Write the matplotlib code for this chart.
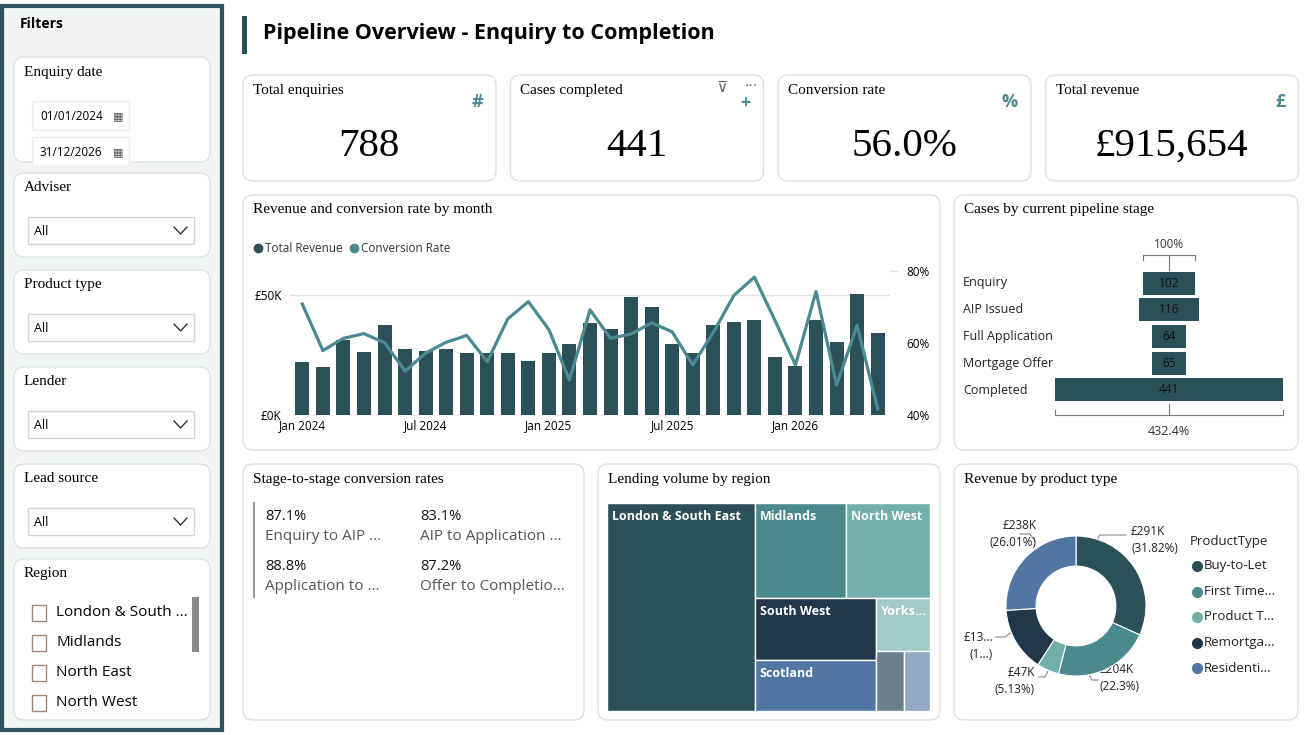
import matplotlib
matplotlib.use("Agg")
import matplotlib.pyplot as plt
from matplotlib.patches import FancyBboxPatch, Rectangle
import numpy as np

W, H = 1312, 735
SANS = "Open Sans"
SERIF = "Liberation Serif"

# ---------------- data ----------------
months = ["Jan 2024", "Jul 2024", "Jan 2025", "Jul 2025", "Jan 2026"]
revenue_k = [22.2, 19.8, 31.3, 26.3, 37.3, 27.5, 26.5, 27.5, 25.7, 26.0, 25.8, 22.5,
             26.0, 29.5, 38.3, 36.0, 49.3, 45.1, 29.6, 26.0, 37.6, 38.8, 39.7, 24.3,
             20.3, 39.4, 30.6, 50.4, 34.2]
conv_rate = [70.8, 57.9, 61.3, 62.6, 60.1, 52.2, 57.2, 60.2, 62.1, 54.8, 66.7, 71.5,
             63.7, 49.7, 69.2, 61.3, 62.5, 65.6, 63.1, 53.9, 62.9, 73.2, 78.3, 66.3,
             53.9, 74.3, 48.3, 64.9, 41.7]

stages = ["Enquiry", "AIP Issued", "Full Application", "Mortgage Offer", "Completed"]
stage_counts = [102, 116, 64, 65, 441]

kpi_titles = ["Total enquiries", "Cases completed", "Conversion rate", "Total revenue"]
kpi_values = ["788", "441", "56.0%", "£915,654"]
kpi_icons = ["#", "+", "%", "£"]

conv_pcts = ["87.1%", "83.1%", "88.8%", "87.2%"]
conv_labels = ["Enquiry to AIP ...", "AIP to Application ...", "Application to ...", "Offer to Completio..."]

regions = ["London & South East", "Midlands", "North West", "South West", "Scotland", "Yorks...", "", ""]
region_vals = [45.8, 12.9, 11.9, 11.2, 9.2, 4.3, 2.5, 2.3]
region_cols = ["#2B5058", "#4A8A8E", "#72B0AC", "#22384A", "#5276A4", "#A3C9C6", "#6B7F8C", "#93A8C4"]

products = ["Buy-to-Let", "First Time...", "Product T...", "Remortga...", "Residenti..."]
product_rev_k = [291, 204, 47, 136, 238]
product_labels = ["£291K\n(31.82%)", "£204K\n(22.3%)", "£47K\n(5.13%)", "£13...\n(1...)", "£238K\n(26.01%)"]
product_cols = ["#2B5058", "#4A8A8E", "#72B0AC", "#22384A", "#5276A4"]

filters = ["Adviser", "Product type", "Lender", "Lead source"]
region_list = ["London & South ...", "Midlands", "North East", "North West"]

DARK = "#2B5058"
LINE = "#4A8A90"

fig = plt.figure(figsize=(W / 100, H / 100), dpi=100)
bg = fig.add_axes([0, 0, 1, 1])
bg.set_xlim(0, W); bg.set_ylim(H, 0); bg.axis("off")

def panel(x, y, w, h, fc="white", ec="#DDE3E3", lw=1.0, r=10):
    bg.add_patch(FancyBboxPatch((x, y), w, h, boxstyle=f"round,pad=0,rounding_size={r}",
                                fc=fc, ec=ec, lw=lw))

def axes_px(x, y, w, h):
    return fig.add_axes([x / W, 1 - (y + h) / H, w / W, h / H])

# sidebar
bg.add_patch(Rectangle((2, 6), 220, 724, fc="#F2F5F4", ec="#2F545C", lw=3))
bg.text(20, 24, "Filters", fontsize=10, fontweight="bold", family=SANS, va="center")
panel(14, 57, 196, 105)
bg.text(24, 72, "Enquiry date", fontsize=11, family=SERIF, va="center")
for yy, d in [(116, "01/01/2024"), (152, "31/12/2026")]:
    bg.add_patch(Rectangle((32, yy - 15), 97, 29, fc="white", ec="#EEEEEE", lw=1))
    bg.text(40, yy, d, fontsize=8.5, family=SANS, va="center")
    bg.text(118, yy, "▦", fontsize=8, color="#555555", va="center", ha="center", family="DejaVu Sans")
for i, f in enumerate(filters):
    y0 = 173 + i * 97
    panel(14, y0, 196, 84)
    bg.text(24, y0 + 14, f, fontsize=11, family=SERIF, va="center")
    bg.add_patch(Rectangle((28, y0 + 44), 166, 27, fc="white", ec="#D5D5D5", lw=1))
    bg.text(34, y0 + 58, "All", fontsize=9, family=SANS, va="center")
    bg.plot([174, 180.5, 187], [y0 + 54, y0 + 61, y0 + 54], color="#333333", lw=1)
panel(14, 559, 196, 161)
bg.text(24, 573, "Region", fontsize=11, family=SERIF, va="center")
for i, rname in enumerate(region_list):
    yy = 613 + i * 30
    bg.add_patch(Rectangle((32, yy - 8), 14, 16, fc="white", ec="#A08878", lw=1))
    bg.text(56, yy, rname, fontsize=11, family=SANS, va="center", fontweight="medium")
bg.add_patch(Rectangle((192, 597), 7, 55, fc="#8A8A8A", ec="none"))

# title
bg.add_patch(Rectangle((242, 16), 5, 38, fc=DARK, ec="none"))
bg.text(263, 33, "Pipeline Overview - Enquiry to Completion", fontsize=15.5,
        fontweight="bold", family=SANS, va="center")

# KPI cards
for i in range(4):
    x0 = 243 + i * 267.5
    panel(x0, 75, 253, 106)
    bg.text(x0 + 10, 90, kpi_titles[i], fontsize=11, family=SERIF, va="center")
    bg.text(x0 + 240, 102 if i != 1 else 103, kpi_icons[i], fontsize=13, color=LINE,
            fontweight="bold", family=SANS, va="center", ha="right")
    bg.text(x0 + 126, 146, kpi_values[i], fontsize=29.5, family=SERIF, va="center", ha="center")
bg.text(722, 88, "⊽", fontsize=11, color="#666666", ha="center", va="center", family="DejaVu Sans")
bg.text(751, 86, "···", fontsize=10, color="#666666", ha="center", va="center", family="DejaVu Sans")

# chart panels
panel(243, 195, 697, 255)
panel(954, 195, 344, 255)
panel(243, 464, 341, 256)
panel(598, 464, 342, 256)
panel(954, 464, 344, 256)
bg.text(253, 209, "Revenue and conversion rate by month", fontsize=11, family=SERIF, va="center")
bg.text(964, 209, "Cases by current pipeline stage", fontsize=11, family=SERIF, va="center")
bg.text(253, 479, "Stage-to-stage conversion rates", fontsize=11, family=SERIF, va="center")
bg.text(608, 479, "Lending volume by region", fontsize=11, family=SERIF, va="center")
bg.text(964, 479, "Revenue by product type", fontsize=11, family=SERIF, va="center")

# legend of combo chart
bg.plot([258], [248], "o", color=DARK, ms=6)
bg.text(265, 248, "Total Revenue", fontsize=8.5, family=SANS, va="center", color="#333333")
bg.plot([354], [248], "o", color=LINE, ms=6)
bg.text(361, 248, "Conversion Rate", fontsize=8.5, family=SANS, va="center", color="#333333")

# combo chart
ax = axes_px(290, 271, 600, 144)
x = np.arange(len(revenue_k))
ax.bar(x, revenue_k, width=0.68, color=DARK, zorder=2)
ax.set_ylim(0, 60)
ax.set_xlim(-0.6, len(x) - 0.4)
ax.set_yticks([0, 50]); ax.set_yticklabels(["£0K", "£50K"], fontsize=8.5, family=SANS)
ax.axhline(50, color="#DDE3E3", lw=1, zorder=1)
ax.set_xticks([0, 6, 12, 18, 24]); ax.set_xticklabels(months, fontsize=8.5, family=SANS)
ax.tick_params(axis="y", length=0, pad=6)
ax.tick_params(axis="x", length=0, pad=3)
for s in ax.spines.values(): s.set_visible(False)
ax.patch.set_alpha(0)
ax2 = ax.twinx()
ax2.plot(x, conv_rate, color=LINE, lw=2.3, zorder=3)
ax2.set_ylim(40, 80)
ax2.set_yticks([40, 60, 80]); ax2.set_yticklabels(["40%", "60%", "80%"], fontsize=8.5, family=SANS)
ax2.tick_params(length=0, pad=12)
for s in ax2.spines.values(): s.set_visible(False)
bg.plot([891, 897], [271, 271], color="#DDE3E3", lw=1)

# funnel
af = axes_px(1055, 270, 228, 133)
n = len(stages)
yy = np.arange(n)
af.barh(yy, stage_counts, left=[-c / 2 for c in stage_counts], height=0.86, color=DARK)
af.set_xlim(-max(stage_counts) / 2, max(stage_counts) / 2)
af.set_ylim(n - 0.5, -0.5)
af.axis("off")
for i, c in enumerate(stage_counts):
    af.text(0, i, str(c), ha="center", va="center", fontsize=8.5, family=SANS, color="#111111")
    bg.text(963, 282 + i * 27, stages[i], fontsize=9, family=SANS, va="center", color="#222222")
bg.text(1169, 244, "100%", fontsize=8.5, family=SANS, ha="center", va="center", color="#333333")
bg.plot([1143, 1143, 1195, 1195], [260, 255, 255, 260], color="#777777", lw=0.8)
bg.plot([1169, 1169], [255, 270], color="#777777", lw=0.8)
bg.plot([1055, 1055, 1283, 1283], [410, 415, 415, 410], color="#777777", lw=0.8)
bg.plot([1169, 1169], [404, 415], color="#777777", lw=0.8)
bg.text(1169, 431, "432.4%", fontsize=9, family=SANS, ha="center", va="center", color="#333333")

# stage conversion
bg.plot([254, 254], [503, 597], color="#999999", lw=1.5)
pos = [(265, 516), (420, 516), (265, 566), (420, 566)]
for (px, py), p, l in zip(pos, conv_pcts, conv_labels):
    bg.text(px, py, p, fontsize=10.5, family=SANS, va="center", color="#111111", fontweight="medium")
    bg.text(px, py + 21, l, fontsize=11, family=SANS, va="center", color="#555555", fontweight="medium")

# treemap (layout computed from values)
at = axes_px(607, 503, 323, 208)
at.set_xlim(0, 1); at.set_ylim(1, 0); at.axis("off")
v = np.array(region_vals) / sum(region_vals)
rects = []
wL = v[0]
rects.append((0, 0, wL, 1))
rest_w = 1 - wL
top_h = (v[1] + v[2]) / rest_w
rects.append((wL, 0, v[1] / top_h, top_h))
rects.append((wL + v[1] / top_h, 0, v[2] / top_h, top_h))
bot_h = 1 - top_h
lw_ = (v[3] + v[4]) / bot_h
rects.append((wL, top_h, lw_, v[3] / lw_))
rects.append((wL, top_h + v[3] / lw_, lw_, v[4] / lw_))
rw = rest_w - lw_
yk = v[5] / rw
rects.append((wL + lw_, top_h, rw, yk))
sh = bot_h - yk
rects.append((wL + lw_, top_h + yk, v[6] / sh, sh))
rects.append((wL + lw_ + v[6] / sh, top_h + yk, v[7] / sh, sh))
for (rx, ry, rwid, rh), c, name in zip(rects, region_cols, regions):
    at.add_patch(Rectangle((rx, ry), rwid, rh, fc=c, ec="white", lw=1))
    if name:
        at.text(rx + 0.015, ry + 0.035, name, color="white", fontsize=9, fontweight="bold",
                family=SANS, va="top", ha="left")

# donut
ad = axes_px(1006, 536, 140, 140)
wedges, _ = ad.pie(product_rev_k, colors=product_cols, startangle=90, counterclock=False,
                   wedgeprops=dict(width=0.43, edgecolor="white", linewidth=0.8))
ad.set_xlim(-1, 1); ad.set_ylim(-1, 1)
ad.set_aspect("equal")
lab_pos = [(1131, 540, "left"), (1100, 678, "left"), (1035, 681, "right"), (993, 646, "right"), (1037, 534, "right")]
leaders = [([1095, 1100, 1126], [543, 535, 535]),
           ([1088, 1092, 1098], [672, 680, 680]),
           ([1050, 1045, 1038], [667, 677, 677]),
           ([1015, 1005, 996], [630, 637, 637]),
           ([1035, 1030, 1020], [541, 534, 534])]
for lx_, ly_ in leaders:
    bg.plot(lx_, ly_, color="#888888", lw=0.8)
for i, (lx, ly, ha) in enumerate(lab_pos):
    bg.text(lx, ly, product_labels[i], fontsize=8.5, family=SANS, ha=ha, va="center",
            color="#222222", linespacing=1.4)
bg.text(1190, 542, "ProductType", fontsize=9.5, family=SANS, va="center", color="#222222")
for i, p in enumerate(products):
    yy_ = 566 + i * 25.5
    bg.plot([1197], [yy_], "o", color=product_cols[i], ms=7)
    bg.text(1204, yy_, p, fontsize=9.5, family=SANS, va="center", color="#222222")

fig.savefig("out.png", dpi=100)
